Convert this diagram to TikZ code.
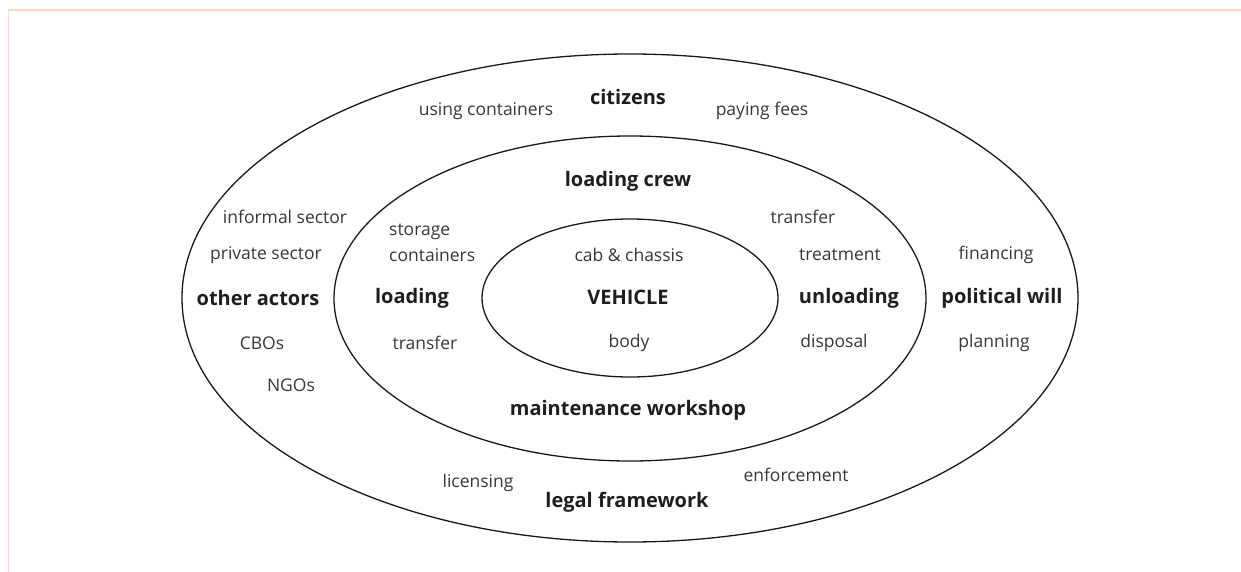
\documentclass[tikz,border=0pt]{standalone}
\usepackage{fontspec}
\setmainfont{Open Sans}
\usetikzlibrary{shapes.geometric}
\definecolor{txt}{RGB}{55,55,55}
\definecolor{btxt}{RGB}{30,30,30}
\definecolor{peach}{RGB}{252,214,196}
\tikzset{
  ring/.style={draw=black!90, line width=1.3pt, ellipse, inner sep=0pt},
  lbl/.style={text=txt, inner sep=0pt, font=\fontsize{17.5}{20}\selectfont},
  key/.style={text=btxt, inner sep=0pt, font=\fontsize{20}{22}\selectfont\bfseries},
}
\begin{document}
\begin{tikzpicture}[x=1pt,y=-1pt]
\useasboundingbox (0,0) rectangle (1241,572);
\draw[peach, line width=2pt] (8,10) -- (1241,10);
\draw[peach, line width=1pt] (8,10) -- (8,572);
% rings
\node[ring, minimum width=896pt, minimum height=488pt] (outer) at (630,298) {};
\node[ring, minimum width=592pt, minimum height=325pt] (middle) at (630,298.5) {};
\node[ring, minimum width=296pt, minimum height=158pt] (inner) at (630,298) {};
% inner
\node[lbl] (cab) at (629,255) {cab \& chassis};
\node[key] (veh) at (628,297) {VEHICLE};
\node[lbl] (body) at (629,343) {body};
% middle ring
\node[key] (crew) at (628,181) {loading crew};
\node[key] (maint) at (628,410) {maintenance workshop};
\node[key] (load) at (412,298) {loading};
\node[lbl, anchor=west] (stor) at (389,232) {storage};
\node[lbl, anchor=west] (cont) at (389,255) {containers};
\node[lbl] (trl) at (425,343) {transfer};
\node[key] (unload) at (849,298) {unloading};
\node[lbl] (trr) at (803,217) {transfer};
\node[lbl] (treat) at (840,255) {treatment};
\node[lbl] (disp) at (834,343) {disposal};
% outer ring
\node[key] (cit) at (628,97) {citizens};
\node[lbl] (using) at (486,111) {using containers};
\node[lbl] (fees) at (762,111) {paying fees};
\node[key] (other) at (258,298) {other actors};
\node[lbl] (inf) at (285,217) {informal sector};
\node[lbl] (priv) at (266,255) {private sector};
\node[lbl] (cbo) at (262,343) {CBOs};
\node[lbl] (ngo) at (291,385) {NGOs};
\node[key] (pol) at (1002,298) {political will};
\node[lbl] (fin) at (996,255) {financing};
\node[lbl] (plan) at (994,343) {planning};
\node[key] (legal) at (627,502) {legal framework};
\node[lbl] (lic) at (478,483) {licensing};
\node[lbl] (enf) at (796,475) {enforcement};
\end{tikzpicture}
\end{document}
